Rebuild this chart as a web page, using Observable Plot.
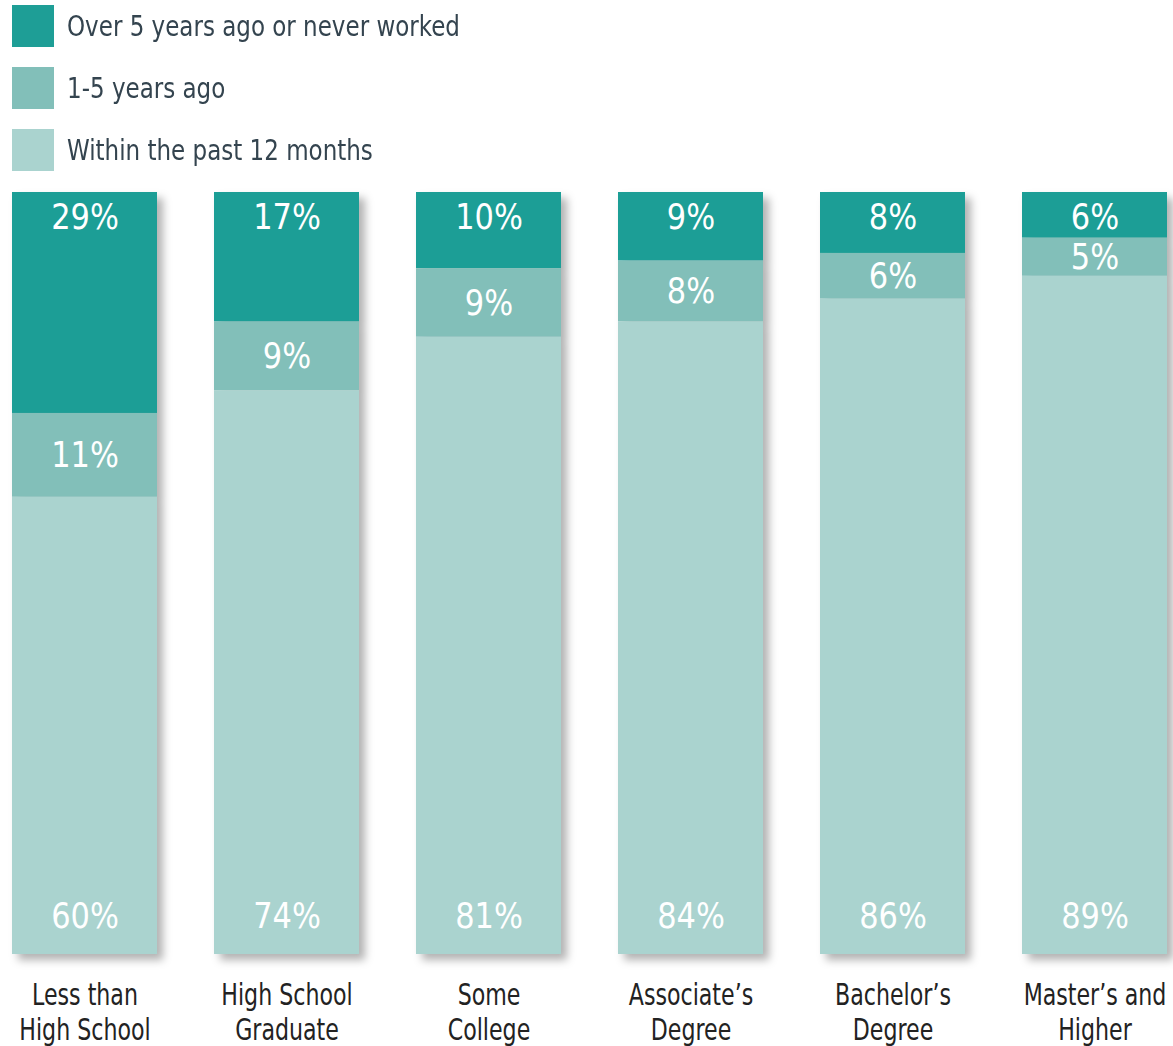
<!DOCTYPE html>
<html>
<head>
<meta charset="utf-8">
<script src="https://cdn.jsdelivr.net/npm/d3@7"></script>
<script src="https://cdn.jsdelivr.net/npm/@observablehq/plot@0.6"></script>
<style>
  body { margin: 0; background: #fff; font-family: "Liberation Sans Narrow", "DejaVu Sans Condensed", sans-serif; }
  #legend { position: relative; height: 180px; }
  .row { position: absolute; left: 12px; height: 42px; display: flex; align-items: center; }
  .sw { width: 42px; height: 42px; margin-right: 13px; flex: none; }
  .lab { font-size: 27.5px; color: #34444f; white-space: nowrap; transform: scaleX(0.93); transform-origin: left center; }
</style>
</head>
<body>
<div id="legend"></div>
<div id="chart"></div>
<script>
const categories = ["Less than\nHigh School", "High School\nGraduate", "Some\nCollege", "Associate’s\nDegree", "Bachelor’s\nDegree", "Master’s and\nHigher"];
const seriesNames = ["Over 5 years ago or never worked", "1-5 years ago", "Within the past 12 months"];
const over5 = [29, 17, 10, 9, 8, 6];
const oneToFive = [11, 9, 9, 8, 6, 5];
const within12 = [60, 74, 81, 84, 86, 89];
const colors = ["#1e9e96", "#82bfb9", "#aad3cf"];

// legend
const legend = document.getElementById("legend");
seriesNames.forEach((name, i) => {
  const row = document.createElement("div");
  row.className = "row";
  row.style.top = (5 + i * 62) + "px";
  row.innerHTML = `<div class="sw" style="background:${colors[i]}"></div><div class="lab">${name}</div>`;
  legend.appendChild(row);
});

// stacked table (top-down)
const series = [over5, oneToFive, within12];
const rows = [];
categories.forEach((c, j) => {
  let acc = 0;
  series.forEach((s, i) => {
    rows.push({cat: c, series: seriesNames[i], idx: i, value: s[j], y1: acc, y2: acc + s[j], mid: acc + s[j] / 2, text: s[j] + "%"});
    acc += s[j];
  });
});
const labelTop = rows.filter(d => d.idx === 0);
const labelMid = rows.filter(d => d.idx === 1);
const labelBot = rows.filter(d => d.idx === 2);

const pctStyle = { x: "cat", text: "text", fill: "white", fontSize: 36 };

const chart = Plot.plot({
  width: 1173,
  height: 866,
  marginTop: 12,
  marginBottom: 92,
  marginLeft: 10.5,
  marginRight: 4.5,
  style: { fontFamily: '"Liberation Sans Narrow", "DejaVu Sans Condensed", sans-serif', background: "transparent" },
  x: { domain: categories, paddingInner: 0.284, paddingOuter: 0, label: null },
  y: { domain: [0, 100], reverse: true, clamp: true, axis: null },
  color: { domain: seriesNames, range: colors },
  marks: [
    Plot.barY(rows, { x: "cat", y1: "y1", y2: "y2", fill: "series" }),
    Plot.text(labelTop, { ...pctStyle, y: "y1", dy: 25, className: "pct" }),
    Plot.text(labelMid, { ...pctStyle, y: "mid", className: "pct" }),
    Plot.text(labelBot, { ...pctStyle, y: () => 100, dy: -38, className: "pct" }),
    Plot.axisX({ tickSize: 0, tickPadding: 25.5, fontSize: 30, lineHeight: 1.167, fill: "#222", label: null, className: "xax" })
  ]
});

document.getElementById("chart").appendChild(chart);

const svg = d3.select(chart);
// drop shadow on bars
const defs = svg.insert("defs", ":first-child");
const f = defs.append("filter").attr("id", "shadow").attr("x", "-10%").attr("y", "-10%").attr("width", "130%").attr("height", "130%");
f.append("feDropShadow").attr("dx", 6).attr("dy", 6).attr("stdDeviation", 4).attr("flood-color", "#000").attr("flood-opacity", 0.3);
svg.select('g[aria-label="bar"]').attr("filter", "url(#shadow)");

// horizontally condense text to mimic a condensed face
function condense(sel, k) {
  sel.each(function() {
    const t = d3.select(this);
    const tr = t.attr("transform") || "";
    t.attr("transform", tr + ` scale(${k},1)`);
  });
}
condense(svg.selectAll("g.pct text"), 0.94);
condense(svg.selectAll("g.xax text"), 0.82);
</script>
</body>
</html>
